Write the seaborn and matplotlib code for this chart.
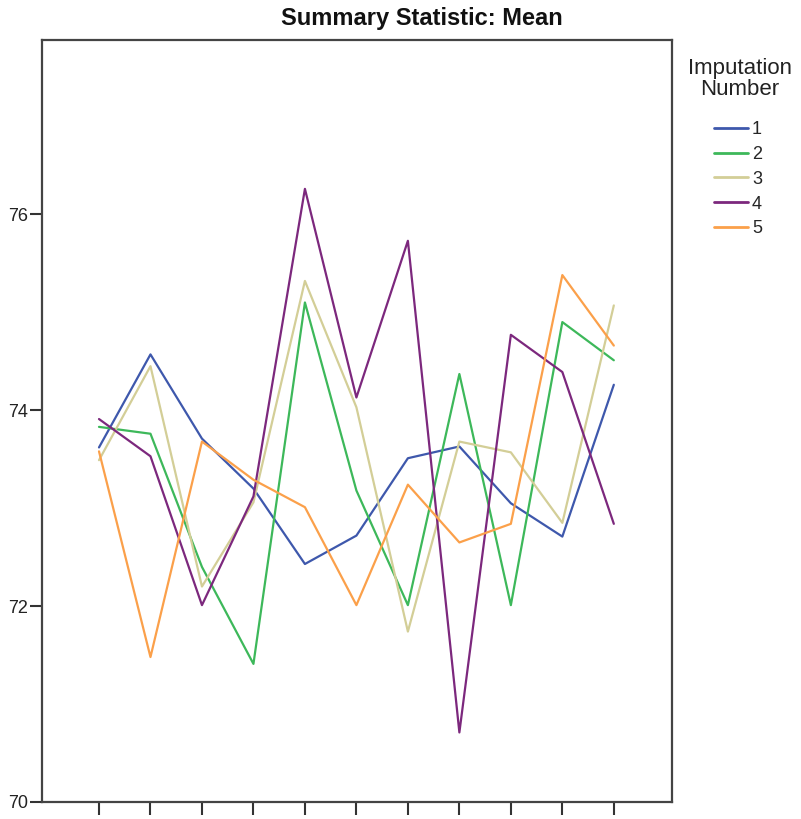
import numpy as np
import pandas as pd
import matplotlib
matplotlib.use("Agg")
import matplotlib.pyplot as plt
import seaborn as sns

# ---- data ----
steps = list(range(11))
imputations = ["1", "2", "3", "4", "5"]
mean_1 = [73.62, 74.57, 73.71, 73.20, 72.43, 72.72, 73.51, 73.63, 73.05, 72.71, 74.26]
mean_2 = [73.83, 73.76, 72.40, 71.41, 75.10, 73.18, 72.01, 74.37, 72.01, 74.90, 74.51]
mean_3 = [73.49, 74.45, 72.20, 73.06, 75.32, 74.03, 71.74, 73.68, 73.57, 72.85, 75.07]
mean_4 = [73.91, 73.53, 72.01, 73.12, 76.26, 74.13, 75.73, 70.71, 74.77, 74.39, 72.84]
mean_5 = [73.58, 71.48, 73.68, 73.29, 73.01, 72.01, 73.24, 72.65, 72.84, 75.38, 74.66]
y_ticks = [70, 72, 74, 76]
colors = ["#3E58AC", "#3DB85A", "#D3CE97", "#7C287D", "#FBA04A"]

series = [mean_1, mean_2, mean_3, mean_4, mean_5]
df = pd.DataFrame({
    "step": steps * len(imputations),
    "mean": sum(series, []),
    "imp": [k for k in imputations for _ in steps],
})

sns.set_style("white")
plt.rcParams["font.family"] = ["Liberation Sans", "DejaVu Sans"]

fig = plt.figure(figsize=(8.01, 8.19), dpi=100)
ax = fig.add_axes([42 / 801, 17 / 819, 630 / 801, 762 / 819])

sns.lineplot(data=df, x="step", y="mean", hue="imp", palette=colors,
             linewidth=1.6, ax=ax, legend=True)

ax.set_xlim(-1.107, 11.13)
ax.set_ylim(70, 77.78)
ax.set_xticks(steps)
ax.set_xticklabels([])
ax.set_yticks(y_ticks)
ax.set_yticklabels([str(v) for v in y_ticks], fontsize=13)
ax.set_xlabel("")
ax.set_ylabel("")
ax.tick_params(axis="both", direction="out", length=9, width=1.5,
               color="#333333", pad=1, labelcolor="#222222")
ax.tick_params(axis="y", left=True)
ax.tick_params(axis="x", bottom=True)
for s in ax.spines.values():
    s.set_visible(True)
    s.set_color("#444444")
    s.set_linewidth(1.6)

handles, labels = ax.get_legend_handles_labels()
ax.get_legend().remove()
leg = fig.legend(handles, labels,
                 loc="upper center", bbox_to_anchor=(738 / 801, 1 - 105 / 819),
                 frameon=False, fontsize=13,
                 handlelength=1.9, handletextpad=0.2, labelspacing=0.43)
for h in leg.legend_handles:
    h.set_linewidth(2)

fig.text(740 / 801, 1 - 79 / 819, "Imputation\nNumber", ha="center",
         va="center", multialignment="center", fontsize=16,
         linespacing=1.0, color="#222222")

fig.text(422 / 801, 1 - 19 / 819, "Summary Statistic: Mean", ha="center",
         va="center", fontsize=17, fontweight="bold", color="#111111")

fig.savefig("out.png", dpi=100)
